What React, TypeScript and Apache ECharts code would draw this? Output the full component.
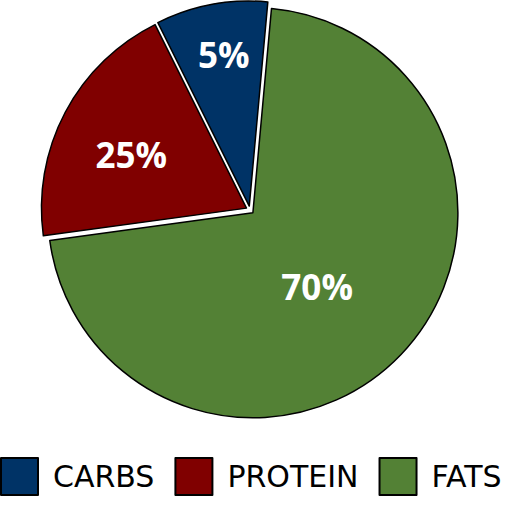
import { useEffect, useRef } from 'react';
import * as echarts from 'echarts';

const categories = ['CARBS', 'PROTEIN', 'FATS'];
// slice sizes as drawn in the picture (the printed labels differ from the geometry)
const sliceValues = [8.8, 19.8, 71.4];
const sliceLabels = ['5%', '25%', '70%'];
const colors = ['#003366', '#800000', '#538135'];
// nudges of each slice label from the default inside position
const labelShift = [
    [-6, -48],
    [-22, -4],
    [-12, 1],
];

const App = () => {
    const chartRef = useRef<HTMLDivElement>(null);

    useEffect(() => {
        if (!chartRef.current) return;
        const chart = echarts.init(chartRef.current, null, { renderer: 'svg' });

        const data = categories.map((name, i) => ({
            name,
            value: sliceValues[i],
            selected: true,
            itemStyle: { color: colors[i] },
        }));

        chart.setOption({
            animation: false,
            backgroundColor: '#ffffff',
            legend: {
                data: categories,
                bottom: 29,
                left: 0,
                padding: 0,
                itemWidth: 37,
                itemHeight: 37,
                itemGap: 20,
                icon: 'rect',
                itemStyle: { borderColor: '#000', borderWidth: 2 },
                textStyle: { fontFamily: 'DejaVu Sans', fontSize: 30, color: '#000', padding: [0, 0, 0, 10] },
            },
            series: [
                {
                    type: 'pie',
                    center: [250, 210],
                    radius: 205,
                    startAngle: 84.8,
                    clockwise: false,
                    selectedMode: 'multiple',
                    selectedOffset: 4,
                    itemStyle: { borderColor: '#000', borderWidth: 1.5 },
                    emphasis: { disabled: true },
                    label: {
                        show: true,
                        position: 'inside',
                        formatter: (p: any) => sliceLabels[p.dataIndex],
                        color: '#fff',
                        fontFamily: 'Open Sans',
                        fontWeight: 'bold',
                        fontSize: 35,
                    },
                    labelLayout: (params: any) => ({
                        dx: labelShift[params.dataIndex][0],
                        dy: labelShift[params.dataIndex][1],
                    }),
                    labelLine: { show: false },
                    data,
                },
            ],
        });

        return () => chart.dispose();
    }, []);

    return (
        <div
            ref={chartRef}
            style={{ position: 'fixed', left: 0, top: 0, width: '524px', height: '525px' }}
        />
    );
};

export default App;
